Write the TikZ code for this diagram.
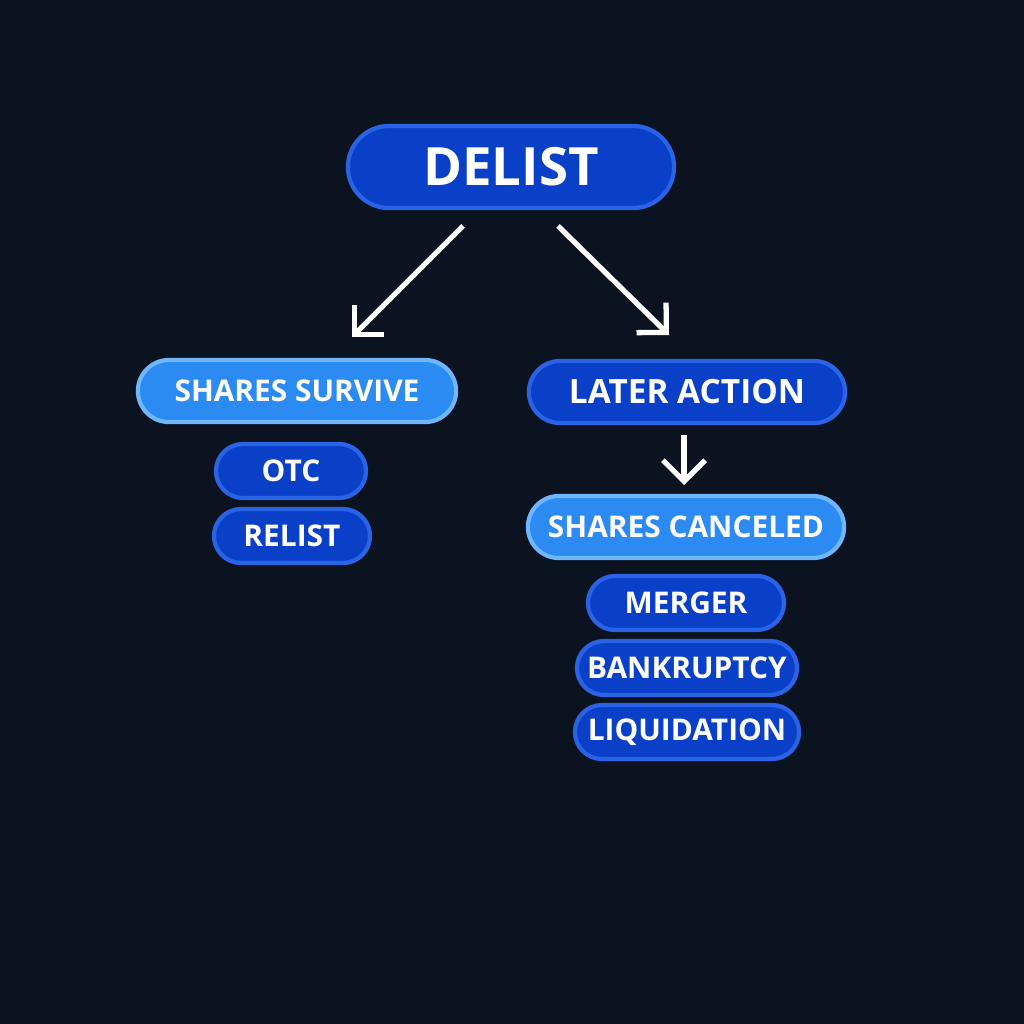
\documentclass[tikz,border=0pt]{standalone}
\usepackage{fontspec}
\setmainfont{Open Sans}
\usetikzlibrary{arrows.meta}
\definecolor{bg}{HTML}{0B1220}
\definecolor{darkb}{HTML}{0A3FC8}
\definecolor{darkedge}{HTML}{2A63E6}
\definecolor{lightb}{HTML}{2B8BF2}
\definecolor{lightedge}{HTML}{6FB6FF}
\begin{document}
\begin{tikzpicture}[x=0.01cm,y=-0.01cm,
  box/.style={draw=darkedge,line width=1.2pt,fill=darkb,rounded corners=0.27cm,text=white,font=\bfseries\fontsize{8.5}{10}\selectfont,minimum height=0.54cm,inner sep=0pt},
  head/.style={box,fill=lightb,draw=lightedge,minimum height=0.62cm,rounded corners=0.31cm,font=\bfseries\fontsize{8.5}{10}\selectfont},
  flow/.style={draw=white,line width=1.5pt,-{Straight Barb[length=6pt,width=12pt]}}]
  \fill[bg] (0,0) rectangle (1024,1024);
  \useasboundingbox (0,0) rectangle (1024,1024);
  \node[box,minimum width=3.26cm,minimum height=0.82cm,rounded corners=0.41cm,font=\bfseries\fontsize{15}{18}\selectfont] (delist) at (511,167) {DELIST};
  \node[head,minimum width=3.18cm] (survive) at (297,391) {SHARES SURVIVE};
  \node[box,minimum width=3.16cm,minimum height=0.62cm,rounded corners=0.31cm,font=\bfseries\fontsize{9.5}{11}\selectfont] (later) at (687,392) {LATER ACTION};
  \node[box,minimum width=1.5cm] (otc) at (291,471) {OTC};
  \node[box,minimum width=1.56cm] (relist) at (292,536) {RELIST};
  \node[head,minimum width=3.16cm] (canceled) at (686,527) {SHARES CANCELED};
  \node[box,minimum width=1.96cm] (merger) at (686,603) {MERGER};
  \node[box,minimum width=2.2cm] (bankrupt) at (687,668) {BANKRUPTCY};
  \node[box,minimum width=2.24cm] (liquid) at (687,732) {LIQUIDATION};
  \coordinate (a1) at (463,226);
  \coordinate (a2) at (558,226);
  \coordinate (b1) at (352,337);
  \coordinate (b2) at (669,335);
  \coordinate (c1) at (684,435);
  \coordinate (c2) at (684,485);
  \draw[flow] (a1) -- (b1);
  \draw[flow] (a2) -- (b2);
  \draw[flow] (c1) -- (c2);
\end{tikzpicture}
\end{document}
